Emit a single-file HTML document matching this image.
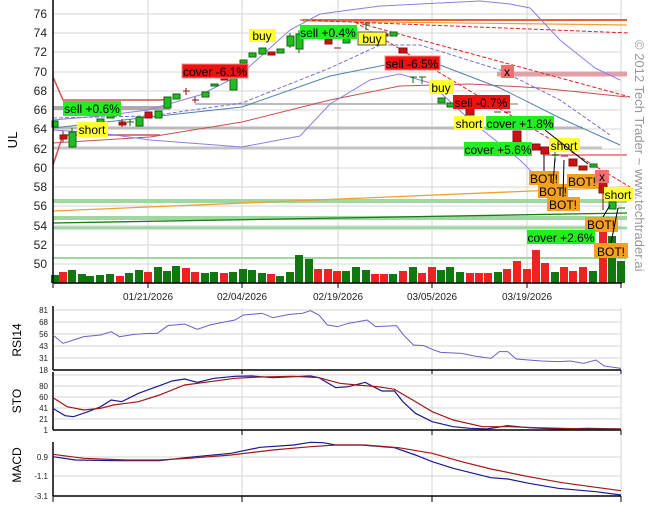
<!DOCTYPE html>
<html><head><meta charset="utf-8"><style>
body{margin:0;background:#fff;}
svg{display:block;font-family:"Liberation Sans",sans-serif;}
</style></head><body>
<svg width="657" height="514" viewBox="0 0 657 514" xmlns="http://www.w3.org/2000/svg">
<rect width="657" height="514" fill="#fff"/>
<!-- main grid -->
<g stroke="#d4d4d4" stroke-width="1">
<line x1="53" y1="14" x2="621" y2="14"/><line x1="53" y1="33" x2="621" y2="33"/><line x1="53" y1="52" x2="621" y2="52"/><line x1="53" y1="72" x2="621" y2="72"/><line x1="53" y1="91" x2="621" y2="91"/><line x1="53" y1="110" x2="621" y2="110"/><line x1="53" y1="129" x2="621" y2="129"/><line x1="53" y1="149" x2="621" y2="149"/><line x1="53" y1="168" x2="621" y2="168"/><line x1="53" y1="187" x2="621" y2="187"/><line x1="53" y1="206" x2="621" y2="206"/><line x1="53" y1="226" x2="621" y2="226"/><line x1="53" y1="245" x2="621" y2="245"/><line x1="53" y1="264" x2="621" y2="264"/>
<line x1="148" y1="0" x2="148" y2="283"/><line x1="242" y1="0" x2="242" y2="283"/><line x1="338" y1="0" x2="338" y2="283"/><line x1="432" y1="0" x2="432" y2="283"/><line x1="527" y1="0" x2="527" y2="283"/><line x1="621" y1="0" x2="621" y2="283"/>
</g>
<!-- S/R lines -->
<g fill="none">
<line x1="53" y1="108" x2="170" y2="108" stroke="#aaa" stroke-width="4"/>
<line x1="195" y1="104" x2="518" y2="104" stroke="#bbb" stroke-width="2"/>
<line x1="53" y1="128" x2="583" y2="128" stroke="#bbb" stroke-width="3"/>
<line x1="53" y1="148" x2="602" y2="148" stroke="#c4c4c4" stroke-width="3"/>
<line x1="53" y1="201" x2="627" y2="201" stroke="#9ed89e" stroke-width="4"/>
<line x1="53" y1="218" x2="627" y2="218" stroke="#9ed89e" stroke-width="4"/>
<line x1="53" y1="228" x2="627" y2="228" stroke="#9ed89e" stroke-width="3"/>
<line x1="53" y1="258" x2="627" y2="258" stroke="#9ed89e" stroke-width="2"/>
<line x1="53" y1="211" x2="627" y2="187" stroke="#f0a030" stroke-width="1.3"/>
<line x1="53" y1="223" x2="627" y2="213" stroke="#1a7a1a" stroke-width="1.3"/>
<line x1="303" y1="20" x2="627" y2="20" stroke="#e86040" stroke-width="2"/>
<line x1="303" y1="21" x2="627" y2="25" stroke="#f0a030" stroke-width="1.2"/>
<line x1="497" y1="74" x2="627" y2="74" stroke="#e0a0a8" stroke-width="5"/>
<line x1="543" y1="155" x2="627" y2="155" stroke="#f09090" stroke-width="2"/>
<line x1="300" y1="20" x2="630" y2="33" stroke="#e02020" stroke-width="1" stroke-dasharray="4,2"/>
<line x1="355" y1="22" x2="630" y2="97" stroke="#e02020" stroke-width="1" stroke-dasharray="4,2"/>
<line x1="355" y1="22" x2="630" y2="187" stroke="#e02020" stroke-width="1" stroke-dasharray="4,2"/>
<!-- donchian red left -->
<polyline points="53,77 63,100 160,100 170,99" stroke="#d05050" stroke-width="1.5"/>
<polyline points="53,165 63,135 160,135" stroke="#d05050" stroke-width="1.5"/>
<!-- red MA -->
<polyline points="53,143 150,137 242,122 330,100 400,86 470,84 540,88 627,97" stroke="#c85050" stroke-width="1"/>
<!-- bollinger -->
<polyline points="53,120 100,116 148,110 200,95 240,75 290,30 320,14 380,6 420,4 480,1 510,4 530,8 560,40 595,68 620,80" stroke="#8a80e0" stroke-width="1"/>
<polyline points="53,130 100,133 150,140 242,147 300,136 330,104 370,80 400,74 430,83 470,120 520,160 545,185 560,192" stroke="#8a80e0" stroke-width="1"/>
<polyline points="53,128 150,117 242,107 330,76 400,62 440,65 500,88 560,118 620,145" stroke="#5080b0" stroke-width="1"/>
<polyline points="53,118 150,116 242,103 330,68 380,45 420,45 500,70 560,100 610,135" stroke="#7a70d0" stroke-width="1" stroke-dasharray="4,2"/>
</g>
<!-- volume -->
<g>
<rect x="51" y="275" width="8" height="8" fill="#117711"/><rect x="59" y="272" width="8" height="11" fill="#ee2222"/><rect x="68" y="270" width="8" height="13" fill="#117711"/><rect x="78" y="274" width="8" height="9" fill="#117711"/><rect x="86" y="276" width="8" height="7" fill="#117711"/><rect x="96" y="275" width="8" height="8" fill="#117711"/><rect x="106" y="274" width="8" height="9" fill="#117711"/><rect x="116" y="276" width="8" height="7" fill="#ee2222"/><rect x="125" y="273" width="8" height="10" fill="#117711"/><rect x="135" y="270" width="8" height="13" fill="#117711"/><rect x="144" y="272" width="8" height="11" fill="#ee2222"/><rect x="154" y="267" width="8" height="16" fill="#117711"/><rect x="163" y="271" width="8" height="12" fill="#117711"/><rect x="172" y="266" width="8" height="17" fill="#117711"/><rect x="182" y="268" width="8" height="15" fill="#ee2222"/><rect x="191" y="272" width="8" height="11" fill="#ee2222"/><rect x="201" y="273" width="8" height="10" fill="#117711"/><rect x="210" y="272" width="8" height="11" fill="#117711"/><rect x="220" y="273" width="8" height="10" fill="#ee2222"/><rect x="229" y="272" width="8" height="11" fill="#117711"/><rect x="239" y="269" width="8" height="14" fill="#117711"/><rect x="248" y="270" width="8" height="13" fill="#117711"/><rect x="258" y="273" width="8" height="10" fill="#117711"/><rect x="267" y="274" width="8" height="9" fill="#ee2222"/><rect x="276" y="276" width="8" height="7" fill="#117711"/><rect x="286" y="272" width="8" height="11" fill="#117711"/><rect x="295" y="255" width="8" height="28" fill="#117711"/><rect x="305" y="259" width="8" height="24" fill="#117711"/><rect x="314" y="269" width="8" height="14" fill="#ee2222"/><rect x="324" y="269" width="8" height="14" fill="#ee2222"/>
<rect x="333" y="271" width="8" height="12" fill="#ee2222"/><rect x="342" y="271" width="8" height="12" fill="#117711"/><rect x="352" y="267" width="8" height="16" fill="#117711"/><rect x="362" y="270" width="8" height="13" fill="#117711"/><rect x="371" y="274" width="8" height="9" fill="#ee2222"/><rect x="380" y="274" width="8" height="9" fill="#ee2222"/><rect x="389" y="274" width="8" height="9" fill="#117711"/><rect x="399" y="271" width="8" height="12" fill="#ee2222"/><rect x="409" y="267" width="8" height="16" fill="#117711"/><rect x="418" y="273" width="8" height="10" fill="#ee2222"/><rect x="428" y="267" width="8" height="16" fill="#ee2222"/><rect x="437" y="270" width="8" height="13" fill="#117711"/><rect x="446" y="267" width="8" height="16" fill="#117711"/><rect x="456" y="272" width="8" height="11" fill="#117711"/><rect x="466" y="273" width="8" height="10" fill="#ee2222"/><rect x="475" y="273" width="8" height="10" fill="#ee2222"/><rect x="484" y="273" width="8" height="10" fill="#ee2222"/><rect x="494" y="272" width="8" height="11" fill="#117711"/><rect x="503" y="269" width="8" height="14" fill="#ee2222"/><rect x="513" y="261" width="8" height="22" fill="#ee2222"/><rect x="523" y="269" width="8" height="14" fill="#ee2222"/><rect x="532" y="250" width="8" height="33" fill="#ee2222"/><rect x="541" y="263" width="8" height="20" fill="#ee2222"/><rect x="551" y="272" width="8" height="11" fill="#117711"/><rect x="560" y="267" width="8" height="16" fill="#ee2222"/><rect x="569" y="271" width="8" height="12" fill="#ee2222"/><rect x="579" y="267" width="8" height="16" fill="#ee2222"/><rect x="589" y="271" width="8" height="12" fill="#117711"/><rect x="599" y="218" width="8" height="65" fill="#ee2222"/><rect x="608" y="236" width="8" height="47" fill="#117711"/><rect x="617" y="261" width="8" height="22" fill="#117711"/>
</g>
<!-- candles -->
<g stroke-width="1">
<g stroke="#116611" fill="#22bb22">
<rect x="52" y="121" width="6" height="6"/><line x1="72" y1="128" x2="72" y2="148"/><rect x="69" y="132" width="7" height="15"/>
<line x1="79" y1="125" x2="86" y2="125"/><line x1="87" y1="123" x2="94" y2="123"/>
<rect x="97" y="119" width="7" height="4"/><rect x="107" y="115" width="7" height="3"/>
<line x1="127" y1="122" x2="134" y2="122"/><line x1="130" y1="119" x2="130" y2="126"/>
<rect x="136" y="117" width="7" height="9"/><rect x="155" y="111" width="7" height="7"/><rect x="164" y="97" width="7" height="11"/><rect x="173" y="94" width="7" height="5"/>
<rect x="202" y="92" width="7" height="5"/><rect x="211" y="84" width="7" height="2"/><line x1="233" y1="75" x2="233" y2="90"/><rect x="230" y="77" width="7" height="13"/>
<rect x="240" y="60" width="7" height="3"/><rect x="249" y="53" width="7" height="4"/><rect x="259" y="48" width="7" height="6"/><rect x="277" y="49" width="7" height="4"/>
<line x1="290" y1="33" x2="290" y2="48"/><rect x="287" y="36" width="7" height="10"/><line x1="299" y1="30" x2="299" y2="53"/><rect x="296" y="34" width="7" height="15"/>
<rect x="343" y="38" width="7" height="5"/><line x1="363" y1="24" x2="370" y2="24"/><line x1="366" y1="22" x2="366" y2="30"/><rect x="390" y="32" width="7" height="4"/>
<line x1="410" y1="77" x2="417" y2="77"/><line x1="413" y1="77" x2="413" y2="83"/><line x1="419" y1="77" x2="426" y2="77"/><line x1="422" y1="77" x2="422" y2="84"/>
<rect x="438" y="98" width="7" height="5"/><rect x="447" y="103" width="7" height="4"/><line x1="494" y1="112" x2="501" y2="112"/>
<line x1="552" y1="155" x2="559" y2="155"/><line x1="555" y1="150" x2="555" y2="162"/><rect x="590" y="164" width="7" height="3"/>
<rect x="609" y="202" width="7" height="7"/><line x1="618" y1="208" x2="625" y2="208"/>
</g>
<g stroke="#881111" fill="#cc1111">
<line x1="63" y1="131" x2="63" y2="142"/><rect x="60" y="135" width="7" height="4"/><rect x="119" y="122" width="7" height="3"/><line x1="122" y1="119" x2="122" y2="127"/>
<rect x="145" y="112" width="7" height="6"/><line x1="183" y1="91" x2="190" y2="91"/><line x1="186" y1="88" x2="186" y2="95"/><line x1="192" y1="100" x2="199" y2="100"/><line x1="195" y1="97" x2="195" y2="103"/>
<rect x="221" y="78" width="7" height="2"/><rect x="268" y="52" width="7" height="3"/><rect x="325" y="39" width="7" height="5"/><line x1="334" y1="48" x2="341" y2="48"/>
<rect x="381" y="34" width="7" height="2"/><rect x="399" y="48" width="8" height="5"/><rect x="466" y="108" width="8" height="7"/><line x1="504" y1="112" x2="511" y2="112"/>
<rect x="513" y="131" width="8" height="11"/><rect x="532" y="144" width="8" height="6"/><rect x="541" y="147" width="8" height="7"/><line x1="561" y1="156" x2="568" y2="156"/>
<rect x="569" y="159" width="8" height="7"/><rect x="579" y="166" width="8" height="4"/><line x1="603" y1="170" x2="603" y2="210"/><rect x="599" y="177" width="8" height="16"/>
</g>
</g>
<!-- labels -->
<g font-size="12" text-anchor="middle">
<rect x="63" y="101" width="58" height="15" fill="#22ee22"/><text x="92" y="113">sell +0.6%</text>
<rect x="77" y="122" width="31" height="15" fill="#ffff33"/><text x="92" y="134">short</text>
<rect x="182" y="64" width="66" height="14" fill="#ee1111" stroke="#ff8888"/><text x="215" y="76">cover -6.1%</text>
<rect x="249" y="29" width="27" height="13" fill="#ffff33"/><text x="262" y="40">buy</text>
<rect x="300" y="25" width="57" height="14" fill="#22ee22"/><text x="328" y="37">sell +0.4%</text>
<rect x="358" y="32" width="28" height="13" fill="#ffff33" stroke="#555"/><text x="372" y="43">buy</text>
<rect x="385" y="56" width="55" height="14" fill="#ee1111" stroke="#ff8888"/><text x="412" y="68">sell -6.5%</text>
<rect x="501" y="65" width="13" height="13" fill="#f07070"/><text x="507" y="76">x</text>
<rect x="429" y="80" width="25" height="14" fill="#ffff33"/><text x="441" y="92">buy</text>
<rect x="453" y="95" width="57" height="14" fill="#ee1111"/><text x="481" y="107">sell -0.7%</text>
<rect x="454" y="116" width="30" height="14" fill="#ffff33"/><text x="469" y="128">short</text>
<rect x="486" y="116" width="68" height="14" fill="#22ee22"/><text x="520" y="128">cover +1.8%</text>
<rect x="464" y="142" width="68" height="14" fill="#22ee22"/><text x="498" y="154">cover +5.6%</text>
<rect x="549" y="138" width="31" height="14" fill="#ffff33"/><text x="564" y="150">short</text>
<rect x="529" y="171" width="30" height="14" fill="#f5a020"/><text x="544" y="183">BOT!</text>
<rect x="567" y="174" width="31" height="14" fill="#f5a020"/><text x="582" y="186">BOT!</text>
<rect x="538" y="184" width="30" height="14" fill="#f5a020"/><text x="553" y="196">BOT!</text>
<rect x="547" y="197" width="33" height="14" fill="#f5a020"/><text x="563" y="209">BOT!</text>
<rect x="595" y="170" width="14" height="13" fill="#f07070"/><text x="602" y="181">x</text>
<rect x="604" y="187" width="29" height="14" fill="#ffff33"/><text x="618" y="199">short</text>
<rect x="585" y="217" width="33" height="15" fill="#f5a020"/><text x="601" y="229">BOT!</text>
<rect x="527" y="230" width="68" height="14" fill="#22ee22"/><text x="561" y="242">cover +2.6%</text>
<rect x="594" y="243" width="34" height="15" fill="#f5a020"/><text x="611" y="256">BOT!</text>
</g>
<g stroke="#000" stroke-width="1">
<line x1="544" y1="171" x2="544" y2="155"/><line x1="553" y1="184" x2="555" y2="158"/><line x1="563" y1="197" x2="564" y2="160"/><line x1="545" y1="130" x2="588" y2="164"/><line x1="603" y1="217" x2="610" y2="205"/><line x1="611" y1="243" x2="618" y2="208"/>
</g>
<!-- axes main -->
<g stroke="#000" stroke-width="1.5">
<line x1="53" y1="0" x2="53" y2="283"/><line x1="53" y1="283" x2="622" y2="283"/>
</g>
<g stroke="#000"><line x1="53" y1="283" x2="53" y2="288"/><line x1="148" y1="283" x2="148" y2="288"/><line x1="242" y1="283" x2="242" y2="288"/><line x1="338" y1="283" x2="338" y2="288"/><line x1="432" y1="283" x2="432" y2="288"/><line x1="527" y1="283" x2="527" y2="288"/><line x1="621" y1="283" x2="621" y2="288"/></g>
<g font-size="12" text-anchor="end" fill="#222">
<text x="47" y="18">76</text><text x="47" y="37">74</text><text x="47" y="56">72</text><text x="47" y="76">70</text><text x="47" y="95">68</text><text x="47" y="114">66</text><text x="47" y="133">64</text><text x="47" y="153">62</text><text x="47" y="172">60</text><text x="47" y="191">58</text><text x="47" y="210">56</text><text x="47" y="230">54</text><text x="47" y="249">52</text><text x="47" y="268">50</text>
</g>
<text x="0" y="0" font-size="13" transform="translate(17,140) rotate(-90)" text-anchor="middle">UL</text>
<g font-size="10" text-anchor="middle" fill="#222">
<text x="148" y="300">01/21/2026</text><text x="242" y="300">02/04/2026</text><text x="338" y="300">02/19/2026</text><text x="432" y="300">03/05/2026</text><text x="527" y="300">03/19/2026</text>
</g>
<text font-size="13" fill="#999" transform="translate(635,40) rotate(90)">© 2012 Tech Trader ~ www.techtrader.ai</text>
<!-- lower panels grid -->
<g stroke="#d4d4d4">
<line x1="53" y1="310" x2="621" y2="310"/><line x1="53" y1="322" x2="621" y2="322"/><line x1="53" y1="334" x2="621" y2="334"/><line x1="53" y1="346" x2="621" y2="346"/><line x1="53" y1="358" x2="621" y2="358"/>
<line x1="53" y1="375" x2="621" y2="375"/><line x1="53" y1="386" x2="621" y2="386"/><line x1="53" y1="397" x2="621" y2="397"/><line x1="53" y1="408" x2="621" y2="408"/><line x1="53" y1="419" x2="621" y2="419"/>
<line x1="53" y1="457" x2="621" y2="457"/><line x1="53" y1="476" x2="621" y2="476"/>
<line x1="242" y1="308" x2="242" y2="496"/><line x1="432" y1="308" x2="432" y2="496"/><line x1="621" y1="308" x2="621" y2="496"/>
</g>
<g stroke="#000" stroke-width="1.5">
<line x1="53" y1="306" x2="53" y2="370"/><line x1="53" y1="370" x2="621" y2="370"/>
<line x1="53" y1="372" x2="53" y2="430"/><line x1="53" y1="430" x2="621" y2="430"/>
<line x1="53" y1="442" x2="53" y2="496"/><line x1="53" y1="496" x2="621" y2="496"/>
</g>
<g stroke="#000"><line x1="242" y1="430" x2="242" y2="435"/><line x1="432" y1="430" x2="432" y2="435"/><line x1="621" y1="430" x2="621" y2="435"/><line x1="53" y1="496" x2="53" y2="502"/><line x1="242" y1="496" x2="242" y2="502"/><line x1="432" y1="496" x2="432" y2="502"/><line x1="621" y1="496" x2="621" y2="502"/><line x1="242" y1="370" x2="242" y2="374"/><line x1="432" y1="370" x2="432" y2="374"/><line x1="621" y1="370" x2="621" y2="374"/></g>
<g font-size="8" text-anchor="end" fill="#222">
<text x="48" y="313">81</text><text x="48" y="325">68</text><text x="48" y="337">56</text><text x="48" y="349">43</text><text x="48" y="361">31</text><text x="48" y="373">18</text>
<text x="48" y="389">80</text><text x="48" y="400">60</text><text x="48" y="411">41</text><text x="48" y="422">21</text><text x="48" y="433">1</text>
<text x="48" y="460">0.9</text><text x="48" y="479">-1.1</text><text x="48" y="499">-3.1</text>
</g>
<g font-size="12" text-anchor="middle">
<text transform="translate(21,340) rotate(-90)">RSI14</text>
<text transform="translate(21,401) rotate(-90)">STO</text>
<text transform="translate(21,465) rotate(-90)">MACD</text>
</g>
<g transform="translate(0,295) scale(0.41964,0.33333)" fill="none">
<polyline vector-effect="non-scaling-stroke" stroke="#6a60c8" stroke-width="1" points="126,120 150,145 175,135 200,125 240,120 265,110 285,125 320,118 355,115 375,115 400,92 440,87 470,103 500,90 530,82 560,75 580,60 625,55 650,68 690,58 720,55 740,47 760,60 780,90 805,95 830,85 875,75 895,95 945,92 960,118 985,150 1010,152 1030,163 1050,172 1100,175 1130,183 1170,190 1190,170 1210,170 1230,192 1290,198 1330,200 1360,198 1390,205 1420,195 1440,213 1480,220"/>
<polyline vector-effect="non-scaling-stroke" stroke="#1a1a90" stroke-width="1.2" points="126,340 155,362 175,365 210,350 240,335 265,315 290,320 330,295 380,272 410,258 440,252 470,262 510,250 560,244 600,243 650,248 700,245 740,243 760,248 800,278 830,275 870,262 890,275 910,288 940,288 960,320 990,355 1030,380 1080,395 1120,400 1160,402 1210,392 1260,398 1330,402 1400,400 1480,402"/>
<polyline vector-effect="non-scaling-stroke" stroke="#a01818" stroke-width="1.2" points="126,308 160,335 200,345 240,340 270,330 330,320 380,300 440,270 500,260 560,250 620,246 700,244 760,248 810,265 850,270 900,275 940,283 990,320 1030,350 1080,375 1150,395 1210,395 1280,398 1400,402 1480,402"/>
<polyline vector-effect="non-scaling-stroke" stroke="#1a1a90" stroke-width="1.2" points="126,485 180,495 280,497 380,497 450,487 550,475 620,457 700,450 740,442 770,443 800,450 860,450 940,458 990,480 1030,500 1080,520 1170,548 1210,552 1260,565 1330,580 1420,590 1480,600"/>
<polyline vector-effect="non-scaling-stroke" stroke="#a01818" stroke-width="1.2" points="126,478 200,490 300,495 380,495 450,490 550,480 650,465 740,455 800,450 870,450 950,458 1030,475 1100,500 1170,522 1260,545 1340,563 1420,577 1480,587"/>
</g>
</svg>
</body></html>
